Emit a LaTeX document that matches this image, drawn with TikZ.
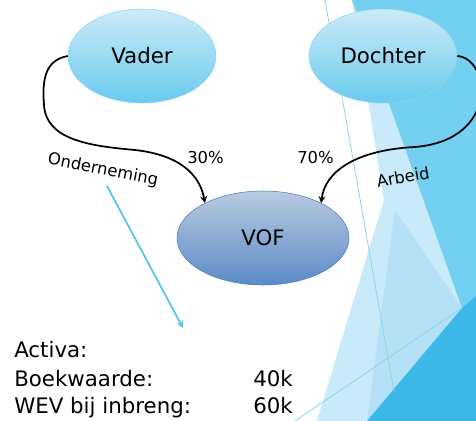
\documentclass[tikz,border=0pt]{standalone}
\usepackage{fontspec}
\setmainfont{DejaVu Sans}
\usetikzlibrary{shapes.geometric,arrows.meta}
\tikzset{>=stealth}
\definecolor{skytop}{HTML}{CBEBF8}
\definecolor{skybot}{HTML}{6ACAEE}
\definecolor{skyline}{HTML}{8FD5F1}
\definecolor{firmtop}{HTML}{BACAE2}
\definecolor{firmbot}{HTML}{5A8BC7}
\definecolor{firmline}{HTML}{4A7EBB}
\definecolor{facetlight}{HTML}{C9EAF8}
\definecolor{facetpale}{HTML}{B4E1F5}
\definecolor{facetblue}{HTML}{74D0F0}
\definecolor{facetdark}{HTML}{3CB9E7}
\definecolor{facetline}{HTML}{8AD4F1}
\definecolor{assetblue}{HTML}{55C5EC}

\begin{document}
\begin{tikzpicture}[x=0.75pt,y=-0.75pt,
  person/.style={ellipse,draw=skyline,top color=skytop,bottom color=skybot,
    minimum width=111pt,minimum height=70.5pt,inner sep=0pt,font=\fontsize{16}{19}\selectfont},
  firm/.style={ellipse,draw=firmline,top color=firmtop,bottom color=firmbot,
    minimum width=129pt,minimum height=70.5pt,inner sep=0pt,font=\fontsize{16}{19}\selectfont},
  flow/.style={->,line width=1.3pt},
  lbl/.style={inner sep=0pt,font=\fontsize{12.3}{14}\selectfont},
  big/.style={inner sep=0pt,anchor=base west,font=\fontsize{16}{19}\selectfont}]
\useasboundingbox (0,0) rectangle (476,421);
\fill[white] (0,0) rectangle (476,421);
\fill[facetlight] (352,0) -- (476,0) -- (476,421) -- (317,421) -- (384,200) -- cycle;
\fill[facetpale] (395,210) -- (462,308) -- (367,421) -- cycle;
\fill[facetblue] (352,0) -- (476,0) -- (476,300) -- (462,308) -- cycle;
\fill[facetdark] (462,308) -- (476,296) -- (476,421) -- (367,421) -- cycle;
\draw[facetline,line width=0.6pt] (325,0) -- (394,392);
\draw[facetline,line width=0.6pt] (295,421) -- (462,308);
\node[person] (vader) at (142,56) {Vader};
\node[person] (dochter) at (383,56) {Dochter};
\node[firm] (vof) at (263,238) {VOF};
\draw[flow] (vader.west) .. controls (45,60) and (42,80) .. (44,105)
  .. controls (46,140) and (90,146) .. (135,150)
  .. controls (180,155) and (200,175) .. (vof.149);
\draw[flow] (dochter.east) .. controls (490,58) and (500,140) .. (415,147)
  .. controls (355,150) and (325,172) .. (vof.31);
\coordinate (ondTail) at (107,186);
\coordinate (ondHead) at (183,328);
\draw[->,assetblue,line width=1.3pt] (ondTail) -- (ondHead);
\node[lbl,rotate=-11] (ond) at (103,170) {Onderneming};
\node[lbl,rotate=10] (arb) at (403,177) {Arbeid};
\node[lbl,anchor=base west] (pv) at (187,163) {30\%};
\node[lbl,anchor=base west] (pd) at (297,163) {70\%};
\node[big] (act) at (14,357) {Activa:};
\node[big] (bw) at (14,386) {Boekwaarde:};
\node[big] (wev) at (14,413) {WEV bij inbreng:};
\node[big] (bwv) at (253,386) {40k};
\node[big] (wevv) at (253,413) {60k};
\end{tikzpicture}
\end{document}
